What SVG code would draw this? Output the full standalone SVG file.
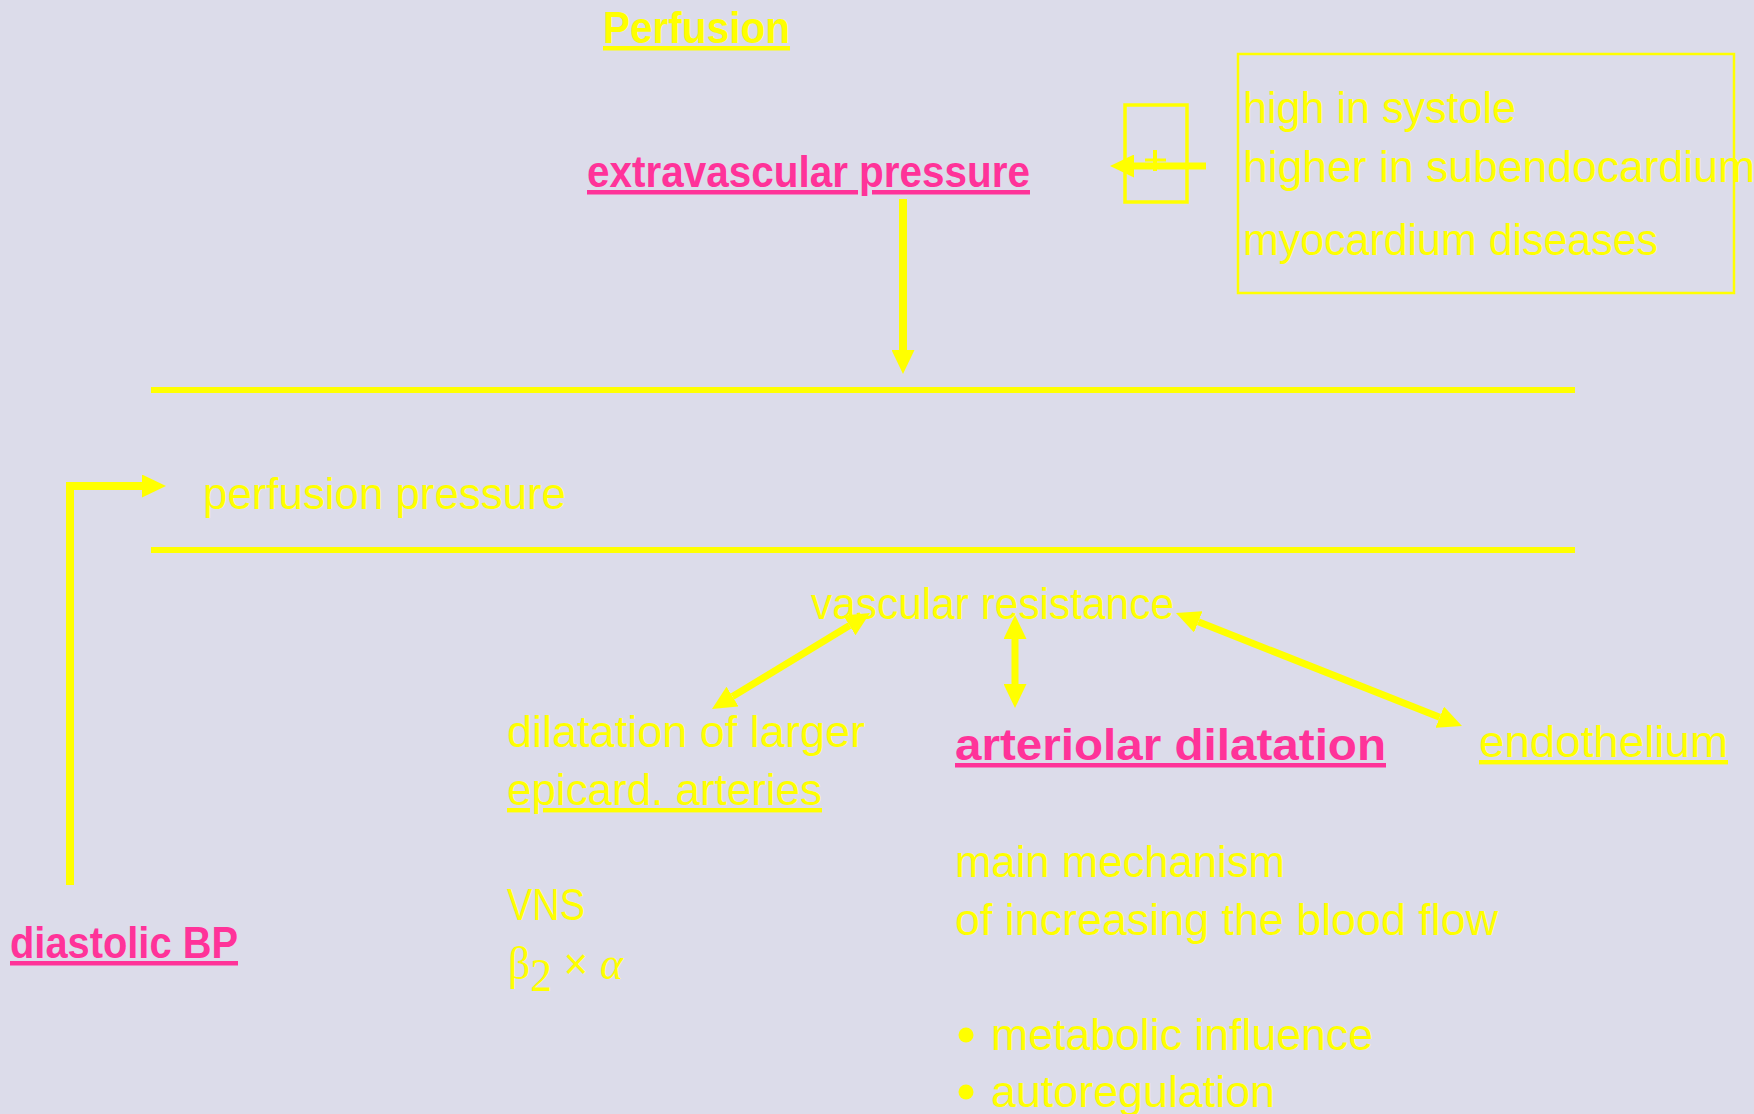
<svg xmlns="http://www.w3.org/2000/svg" width="1754" height="1114" viewBox="0 0 1754 1114">
<defs>
<style>
.t{font-family:"Liberation Sans",Arial,sans-serif;font-size:44px;fill:#FFFF00}
.b{font-family:"Liberation Sans",Arial,sans-serif;font-size:45px;font-weight:bold}
.pk{fill:#FF3399}
.yl{fill:#FFFF00}
.u{text-decoration:underline;text-decoration-thickness:4px;text-underline-offset:4px}
.gr{font-family:"Liberation Serif","Times New Roman",serif;font-size:46px;fill:#FFFF00}
.ln{stroke:#FFFF00;fill:none}
.bul{fill:#FFFF00}
</style>
<marker id="ah" markerUnits="userSpaceOnUse" viewBox="0 0 24 23" refX="0" refY="11.5" markerWidth="24" markerHeight="23" orient="auto-start-reverse">
<path d="M0,0 L24,11.5 L0,23 z" fill="#FFFF00"/>
</marker>
</defs>
<rect width="1754" height="1114" fill="#DCDCEA"/>

<g id="title"><text class="b yl u" x="603" y="43" textLength="187" lengthAdjust="spacingAndGlyphs">Perfusion</text></g>

<g id="extravascular"><text class="b pk u" x="587" y="187" textLength="443" lengthAdjust="spacingAndGlyphs">extravascular pressure</text></g>

<g id="smallbox"><rect class="ln" x="1125" y="105" width="62" height="97" stroke-width="3.5"/>
<line class="ln" x1="1155" y1="150" x2="1155" y2="171" stroke-width="4"/>
<line class="ln" x1="1145" y1="160" x2="1166" y2="160" stroke-width="3"/></g>

<g id="notes"><rect class="ln" x="1238" y="54" width="496" height="239" stroke-width="2.5"/>
<text class="t" x="1243" y="123" textLength="273" lengthAdjust="spacingAndGlyphs">high in systole</text>
<text class="t" x="1243" y="182" textLength="512" lengthAdjust="spacingAndGlyphs">higher in subendocardium</text>
<text class="t" x="1243" y="255" textLength="415" lengthAdjust="spacingAndGlyphs">myocardium diseases</text></g>

<g id="vessel"><line class="ln" x1="151" y1="390" x2="1575" y2="390" stroke-width="6"/>
<line class="ln" x1="151" y1="550" x2="1575" y2="550" stroke-width="6"/></g>

<g id="perfusionpressure"><text class="t" x="203" y="509" textLength="363" lengthAdjust="spacingAndGlyphs">perfusion pressure</text></g>

<g id="diastolic"><text class="b pk u" x="10" y="958" textLength="228" lengthAdjust="spacingAndGlyphs">diastolic BP</text></g>

<g id="resistance"><text class="t" x="811" y="619" textLength="363" lengthAdjust="spacingAndGlyphs">vascular resistance</text></g>

<g id="epicardial"><text class="t" x="507" y="747" textLength="358" lengthAdjust="spacingAndGlyphs">dilatation of larger</text>
<text class="t u" x="507" y="805" textLength="315" lengthAdjust="spacingAndGlyphs">epicard. arteries</text>
<text class="t" x="507" y="920" textLength="78" lengthAdjust="spacingAndGlyphs">VNS</text>
<text x="508" y="979" textLength="115" lengthAdjust="spacingAndGlyphs"><tspan class="gr">β</tspan><tspan class="gr" font-size="30px" dy="12">2</tspan><tspan class="t" dy="-12"> × </tspan><tspan class="gr" font-style="italic">α</tspan></text></g>

<g id="arteriolar"><text class="b pk u" x="955" y="760" textLength="431" lengthAdjust="spacingAndGlyphs">arteriolar dilatation</text>
<text class="t" x="955" y="877" textLength="330" lengthAdjust="spacingAndGlyphs">main mechanism</text>
<text class="t" x="955" y="935" textLength="543" lengthAdjust="spacingAndGlyphs">of increasing the blood flow</text>
<circle class="bul" cx="966" cy="1035" r="7.5"/>
<text class="t" x="991" y="1050" textLength="382" lengthAdjust="spacingAndGlyphs">metabolic influence</text>
<circle class="bul" cx="966" cy="1092" r="7.5"/>
<text class="t" x="991" y="1107" textLength="284" lengthAdjust="spacingAndGlyphs">autoregulation</text></g>

<g id="endothelium"><text class="t u" x="1479" y="757" textLength="249" lengthAdjust="spacingAndGlyphs">endothelium</text></g>

<g id="connectors">
<line class="ln" x1="903" y1="199" x2="903" y2="350" stroke-width="8" marker-end="url(#ah)"/>
<line class="ln" x1="1206" y1="166" x2="1134" y2="166" stroke-width="7" marker-end="url(#ah)"/>
<path class="ln" d="M70,885 V486 H142" stroke-width="8" marker-end="url(#ah)"/>
<line class="ln" x1="732.5" y1="696.5" x2="849.5" y2="625.5" stroke-width="7" marker-start="url(#ah)" marker-end="url(#ah)"/>
<line class="ln" x1="1015" y1="639" x2="1015" y2="684" stroke-width="7" marker-start="url(#ah)" marker-end="url(#ah)"/>
<line class="ln" x1="1198.3" y1="621.8" x2="1439.7" y2="717.2" stroke-width="7" marker-start="url(#ah)" marker-end="url(#ah)"/>
</g>
</svg>
